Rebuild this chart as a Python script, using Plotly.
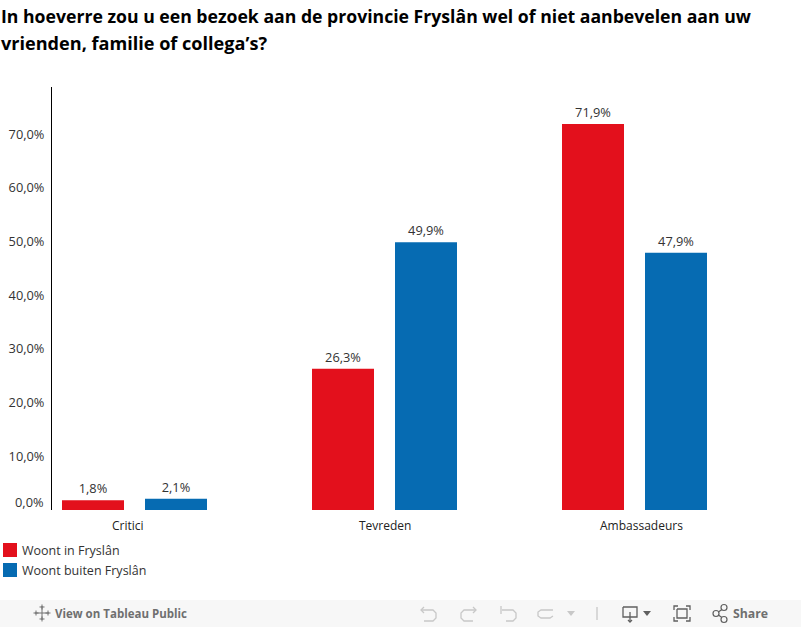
import plotly.graph_objects as go

categories = ["Critici", "Tevreden", "Ambassadeurs"]
woont_in = [1.8, 26.3, 71.9]
woont_buiten = [2.1, 49.9, 47.9]
series_names = ["Woont in Fryslân", "Woont buiten Fryslân"]
y_ticks = [10, 20, 30, 40, 50, 60, 70]
y_tick_labels = ["10,0%", "20,0%", "30,0%", "40,0%", "50,0%", "60,0%", "70,0%"]
title_lines = ["In hoeverre zou u een bezoek aan de provincie Fryslân wel of niet aanbevelen aan uw",
               "vrienden, familie of collega’s?"]

RED = "#e3101c"
BLUE = "#066bb2"
FONT = "Open Sans"
W, H = 801, 627
L, T, PW, PH = 52, 87, 749, 423


def px(x):
    return (x - L) / PW


def py(y):
    return (T + PH - y) / PH


fig = go.Figure()
for name, vals, col in [(series_names[0], woont_in, RED), (series_names[1], woont_buiten, BLUE)]:
    fig.add_bar(x=categories, y=vals, name=name, marker=dict(color=col, line_width=0),
                texttemplate="%{y:.1f}%", textposition="outside", cliponaxis=False,
                textfont=dict(family=FONT, size=12.8, color="#333333"), showlegend=False)

shapes, ann = [], []


def rect(x0, y0, x1, y1, col):
    shapes.append(dict(type="rect", xref="paper", yref="paper", x0=px(x0), x1=px(x1), y0=py(y1), y1=py(y0),
                       fillcolor=col, line_width=0, layer="below"))


def line(pts, col="#c8c8c8", w=1.3, close=False):
    p = "M" + " L".join(f"{px(a):.5f},{py(b):.5f}" for a, b in pts) + (" Z" if close else "")
    shapes.append(dict(type="path", xref="paper", yref="paper", path=p, line=dict(color=col, width=w)))


def text(x, y, s, size=12, col="#333333", anchor="left", fam=FONT):
    ann.append(dict(xref="paper", yref="paper", x=px(x), y=py(y), text=s, showarrow=False, xanchor=anchor,
                    yanchor="middle", align="left", borderpad=0, borderwidth=0,
                    font=dict(family=fam, size=size, color=col)))


# title
text(1, 15.5, f"<b>{title_lines[0]}</b>", 17.65, "#000000")
text(1, 42.5, f"<b>{title_lines[1]}</b>", 18.1, "#000000")
# lifted zero label
text(44, 502, "0,0%", 12.8, "#333333", "right")
# category labels: the reference centres the outer two away from their bars
for cat, shift in zip(categories, [-6.5, 0, 6.5]):
    ann.append(dict(xref="x", yref="paper", x=cat, y=py(525.5), xshift=shift, text=cat, showarrow=False,
                    xanchor="center", yanchor="middle", borderpad=0,
                    font=dict(family=FONT, size=12, color="#222222")))
# legend
rect(3, 543, 17, 557, RED)
rect(3, 563, 17, 577, BLUE)
text(22, 550.5, series_names[0], 12.5)
text(22, 570.5, series_names[1], 12.5)
# footer band
rect(0, 600, 801, 627, "#f7f7f7")
text(55, 613.5, "<b>View on Tableau Public</b>", 11.5, "#6f6f6f")
text(733, 613.5, "<b>Share</b>", 12.3, "#6f6f6f")
# tableau logo
for a, b, r in [(42, 613, 7), (36, 613, 2.5), (48, 613, 2.5), (42, 607, 2.5), (42, 619, 2.5)]:
    line([(a - r, b), (a + r, b)], "#707070", 1)
    line([(a, b - r), (a, b + r)], "#707070", 1)
# undo / redo icons
line([(421, 610), (433, 610), (436, 613), (436, 618), (433, 621), (424, 621)])
line([(424, 607), (421, 610), (424, 613)])
line([(476, 610), (464, 610), (461, 613), (461, 618), (464, 621), (473, 621)])
line([(473, 607), (476, 610), (473, 613)])
line([(502, 610), (513, 610), (516, 613), (516, 618), (513, 621), (506, 621)])
line([(501, 606), (501, 614)])
line([(553, 610), (541, 610), (538, 612), (538, 616), (541, 618), (550, 618), (553, 616)])
shapes.append(dict(type="path", xref="paper", yref="paper", fillcolor="#c8c8c8", line_width=0,
                   path=f"M{px(567)},{py(611)} L{px(575)},{py(611)} L{px(571)},{py(616)} Z"))
line([(597, 607), (597, 620)])
# download
line([(623, 607), (637, 607), (637, 617), (623, 617), (623, 607)], "#606060")
line([(630, 612), (630, 621)], "#606060")
line([(628, 620), (630, 622), (632, 620)], "#606060")
shapes.append(dict(type="path", xref="paper", yref="paper", fillcolor="#606060", line_width=0,
                   path=f"M{px(643)},{py(611)} L{px(651)},{py(611)} L{px(647)},{py(616)} Z"))
# fullscreen
line([(674, 610), (674, 606), (678, 606)], "#606060")
line([(686, 606), (690, 606), (690, 610)], "#606060")
line([(674, 617), (674, 621), (678, 621)], "#606060")
line([(686, 621), (690, 621), (690, 617)], "#606060")
line([(677, 609), (687, 609), (687, 618), (677, 618), (677, 609)], "#606060")
# share
line([(717, 613), (724, 608)], "#606060")
line([(717, 614), (724, 619)], "#606060")
for a, b in [(716, 613.5), (724, 607.5), (724, 619.5)]:
    shapes.append(dict(type="circle", xref="paper", yref="paper", x0=px(a - 3), x1=px(a + 3), y0=py(b + 3),
                       y1=py(b - 3), line=dict(color="#606060", width=1.2), fillcolor="#f7f7f7"))

fig.update_layout(
    width=W, height=H, autosize=False,
    margin=dict(l=L, r=W - L - PW, t=T, b=H - T - PH, pad=0),
    paper_bgcolor="white", plot_bgcolor="white",
    barmode="group", bargap=0.336, bargroupgap=0.253,
    separators=",.",
    shapes=shapes, annotations=ann,
    font=dict(family=FONT, size=12, color="#333333"),
    xaxis=dict(range=[-0.33, 2.666], showgrid=False, showline=False, zeroline=False, ticks="",
               showticklabels=False, categoryorder="array", categoryarray=categories),
    yaxis=dict(range=[0, 78.8], tickvals=y_ticks, ticktext=y_tick_labels,
               showgrid=False, zeroline=False, showline=True, linecolor="#000000", linewidth=1, ticks="",
               ticklabelstandoff=4, tickfont=dict(family=FONT, size=12.8, color="#333333")),
)
fig.write_html("out.html", config=dict(displayModeBar=False),
               post_script="document.body.style.margin='0';document.documentElement.style.overflow='hidden';")
